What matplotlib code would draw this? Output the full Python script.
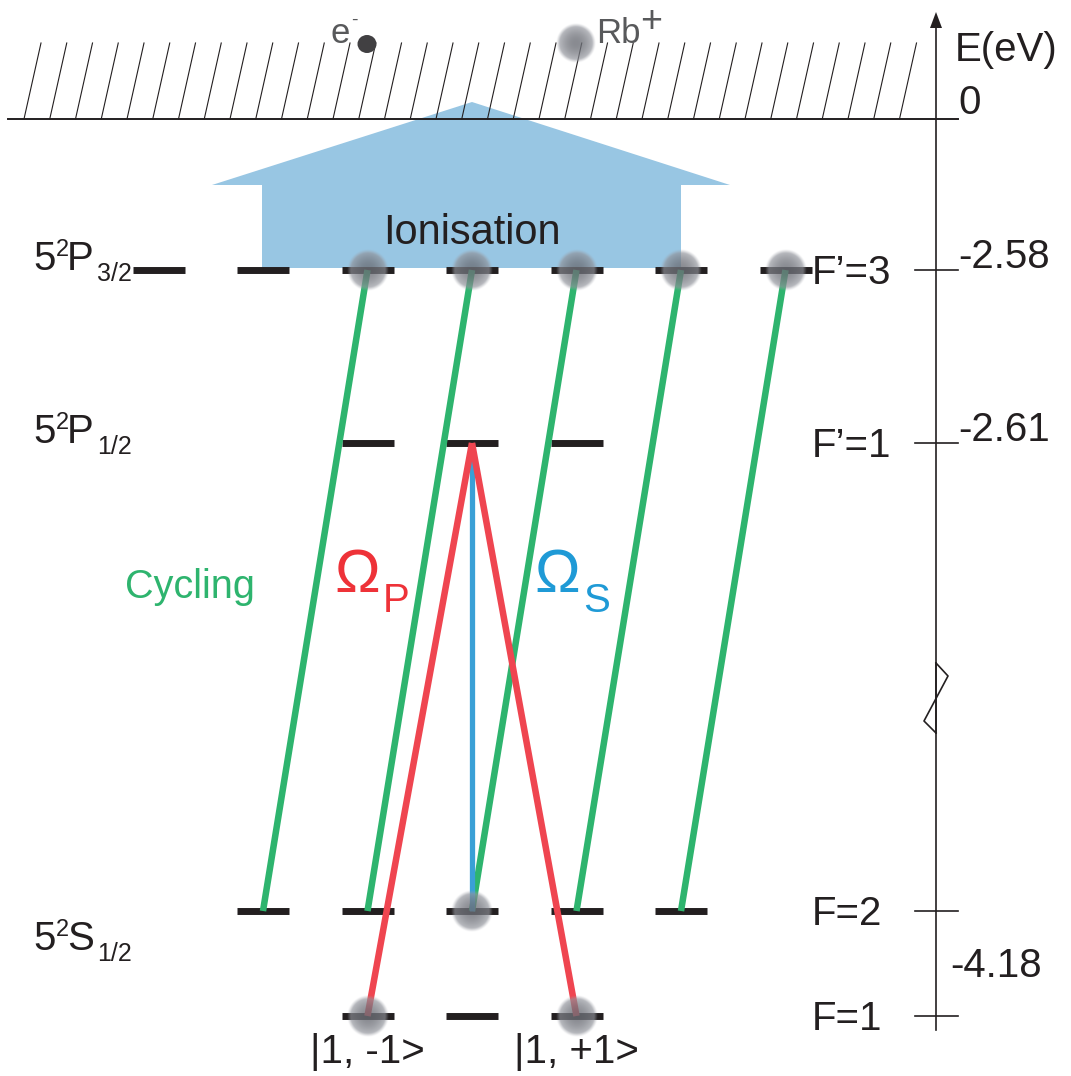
import numpy as np
import matplotlib
matplotlib.use("Agg")
import matplotlib.pyplot as plt
from matplotlib.patches import Polygon, Ellipse

plt.rcParams['font.family'] = ['Liberation Sans', 'DejaVu Sans']

# ---------------- data ----------------
# manifolds (schematic vertical positions, top = 0 eV continuum)
level_terms = [("5", "2", "P", "3/2"), ("5", "2", "P", "1/2"), None,
               ("5", "2", "S", "1/2")]
level_F = [3, 1, 2, 1]
level_F_labels = ["F\u2019=3", "F\u2019=1", "F=2", "F=1"]
level_y = [270, 443, 911, 1016]
energy_labels = ["0", "-2.58", "-2.61", "-4.18"]

# cycling transitions: F=2, m -> F'=3, m+1
cycling_lower_m = [-2, -1, 0, 1, 2]
cycling_upper_m = [-1, 0, 1, 2, 3]
# pump: F=1 m=-1,+1 -> F'=1 m=0 ; Stokes: F=2 m=0 -> F'=1 m=0
pump_lower_m = [-1, 1]
stokes_lower_m = [0]
# populated sublevels (atoms drawn)
pop_Fp3 = [-1, 0, 1, 2, 3]
pop_F2 = [0]
pop_F1 = [-1, 1]
ket_labels = ["|1, -1>", "|1, +1>"]

# ---------------- layout / style ----------------
X0, DM, BAR_W = 472.0, 104.5, 52.0
C_BLACK = '#231f20'
C_GREEN = '#2eb46e'
C_RED = '#ef4550'
C_BLUE = '#3aa0d6'
C_BLUE_T = '#1f9ad6'
C_RED_T = '#ee3238'
C_ARROW = '#98c6e3'
C_GRAY = '#58595b'
FS = 29

def mx(m):
    return X0 + DM * m

fig = plt.figure(figsize=(10.71, 10.76), dpi=100)
ax = fig.add_axes([0, 0, 1, 1])
ax.axis('off')

# ionisation arrow
arrow_tip_y, arrow_head_y, arrow_base_y = 102, 185, 268
arrow = Polygon([(X0, arrow_tip_y), (730, arrow_head_y), (681, arrow_head_y),
                 (681, arrow_base_y), (262, arrow_base_y), (262, arrow_head_y),
                 (212, arrow_head_y)], closed=True, facecolor=C_ARROW,
                edgecolor='none', zorder=1)
ax.add_patch(arrow)
ax.text(X0, 244, "Ionisation", fontsize=30, color=C_BLACK, ha='center',
        va='baseline', zorder=6)

# continuum hatch
cont_y, hatch_top, hatch_dx = 119, 43, 17
hatch_x = 24 + 25.75 * np.arange(35)
for hx in hatch_x:
    ax.plot([hx, hx + hatch_dx], [cont_y, hatch_top], color=C_BLACK, lw=0.8,
            zorder=2)
ax.plot([8, 958], [cont_y, cont_y], color=C_BLACK, lw=1.4, zorder=2)

# sublevel bars
for F, y in zip(level_F, level_y):
    for m in range(-F, F + 1):
        ax.plot([mx(m) - BAR_W / 2, mx(m) + BAR_W / 2], [y, y], color=C_BLACK,
                lw=5, solid_capstyle='butt', zorder=3)

# transitions
yFp3, yFp1, yF2, yF1 = level_y
for ml, mu in zip(cycling_lower_m, cycling_upper_m):
    ax.plot([mx(ml), mx(mu)], [yF2, yFp3], color=C_GREEN, lw=4.7,
            solid_capstyle='butt', zorder=4)
for ml in stokes_lower_m:
    ax.plot([mx(ml), mx(0)], [yF2, yFp1], color=C_BLUE, lw=3.8,
            solid_capstyle='butt', zorder=4)
for ml in pump_lower_m:
    ax.plot([mx(ml), mx(0)], [yF1, yFp1], color=C_RED, lw=4.7,
            solid_capstyle='butt', zorder=5)

# atoms (soft grey spheres)
def ball(x, y, r, z=7):
    n = 120
    yy, xx = np.mgrid[-1:1:n * 1j, -1:1:n * 1j]
    d = np.sqrt(xx ** 2 + yy ** 2)
    t = np.clip(d, 0, 1)
    c0 = np.array([0.42, 0.43, 0.46])
    c1 = np.array([0.64, 0.65, 0.68])
    rgba = np.zeros((n, n, 4))
    rgba[..., :3] = c0 + (c1 - c0) * (t[..., None] ** 2)
    alpha = 0.8 * (1 - 0.25 * t ** 2) * np.clip((1 - d) / 0.18, 0, 1)
    rgba[..., 3] = alpha
    ax.imshow(rgba, extent=(x - r, x + r, y + r, y - r), zorder=z,
              interpolation='bilinear')

BALL_R = 21
for m in pop_Fp3:
    ball(mx(m), yFp3, BALL_R)
for m in pop_F2:
    ball(mx(m), yF2, BALL_R)
for m in pop_F1:
    ball(mx(m), yF1, BALL_R)

# e- and Rb+
ax.add_patch(Ellipse((367, 44), 19, 18, facecolor='#414042', edgecolor='none',
                     zorder=7))
ball(576, 43, 20)
ax.text(331, 43, "e", fontsize=25, color=C_GRAY, va='baseline', zorder=8)
ax.text(351, 25, "-", fontsize=14, color=C_GRAY, va='baseline', zorder=8)
ax.text(596, 43, "Rb", fontsize=25, color=C_GRAY, va='baseline', zorder=8)
ax.text(640, 32, "+", fontsize=27, color=C_GRAY, va='baseline', zorder=8)

# manifold labels (term symbols)
term_base = [270, 443, None, 950]
for term, yb in zip(level_terms, term_base):
    if term is None:
        continue
    n, s, L, j = term
    ax.text(33, yb, n, fontsize=FS, color=C_BLACK, va='baseline')
    ax.text(56, yb - 14, s, fontsize=17, color=C_BLACK, va='baseline')
    ax.text(67, yb, L, fontsize=FS, color=C_BLACK, va='baseline')
    ax.text(97, yb + 11, j, fontsize=18, color=C_BLACK, va='baseline')

# F labels
for lab, y in zip(level_F_labels, level_y):
    ax.text(812, y + 14, lab, fontsize=FS, color=C_BLACK, va='baseline')

# Rabi labels
ax.text(125, 598, "Cycling", fontsize=28.5, color=C_GREEN, va='baseline')
ax.text(334, 592, "\u03A9", fontsize=44, color=C_RED_T, va='baseline')
ax.text(383, 612, "P", fontsize=29, color=C_RED_T, va='baseline')
ax.text(534, 592, "\u03A9", fontsize=44, color=C_BLUE_T, va='baseline')
ax.text(583, 612, "S", fontsize=29, color=C_BLUE_T, va='baseline')
for lab, m in zip(ket_labels, pump_lower_m):
    ax.text(mx(m), 1063, lab, fontsize=FS, color=C_BLACK, ha='center',
            va='baseline')

# energy axis with break
AX_X = 936
brk = [(AX_X, 663), (948, 676), (924, 721), (AX_X, 733)]
ax.plot([AX_X, AX_X], [1030, 663], color=C_BLACK, lw=1.2)
ax.plot([p[0] for p in brk], [p[1] for p in brk], color=C_BLACK, lw=1.2)
ax.plot([AX_X, AX_X], [733, 24], color=C_BLACK, lw=1.2)
ax.add_patch(Polygon([(AX_X, 12), (AX_X - 6, 28), (AX_X + 6, 28)],
                     closed=True, facecolor=C_BLACK, edgecolor='none'))
for y in level_y:
    ax.plot([915, 958], [y, y], color=C_BLACK, lw=1.2)
ax.text(955, 61, "E(eV)", fontsize=FS, color=C_BLACK, va='baseline')
energy_pos = [(958, 114), (958, 268), (958, 441), (950, 977)]
for lab, (ex, ey) in zip(energy_labels, energy_pos):
    ax.text(ex, ey, lab, fontsize=FS, color=C_BLACK, va='baseline')

ax.set_aspect('auto')
ax.set_xlim(0, 1071)
ax.set_ylim(1076, 0)
fig.savefig("out.png", dpi=100)
